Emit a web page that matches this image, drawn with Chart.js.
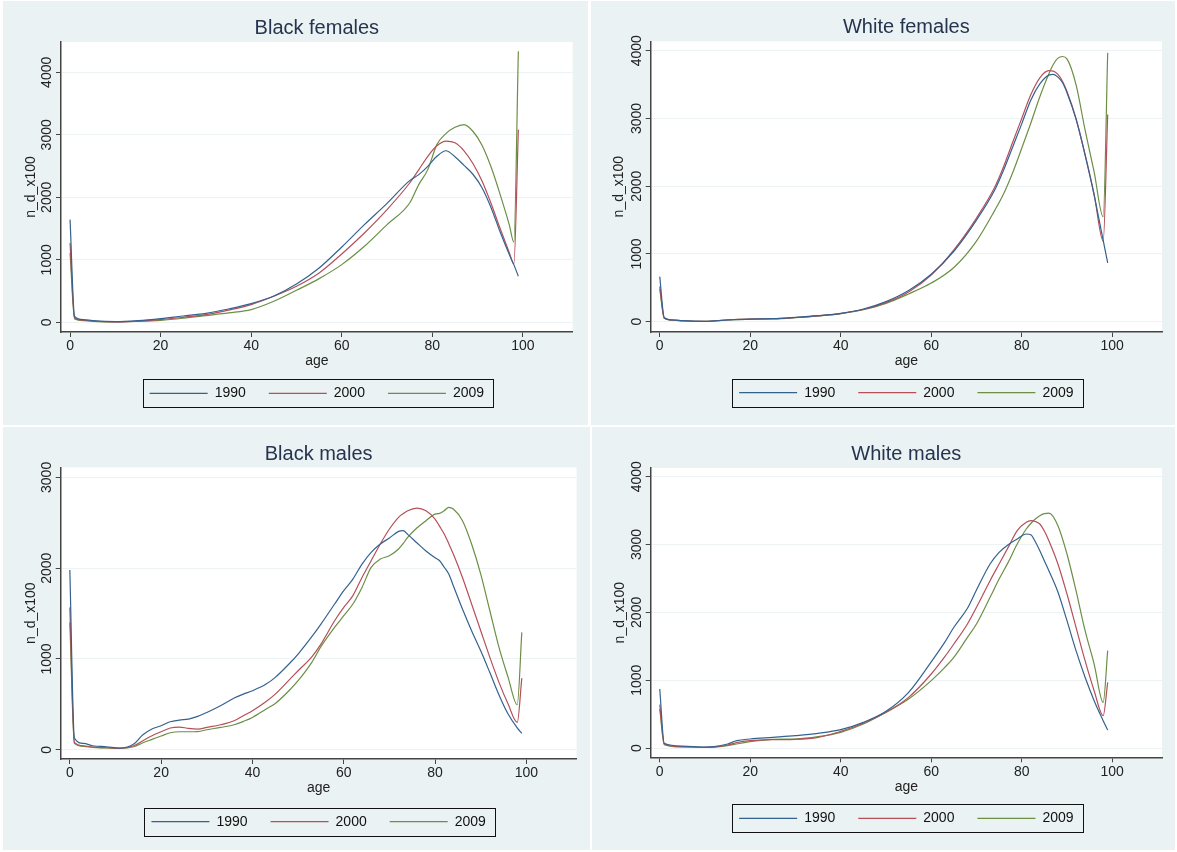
<!DOCTYPE html>
<html>
<head>
<meta charset="utf-8">
<script src="https://cdn.jsdelivr.net/npm/chart.js@4.4.0/dist/chart.umd.min.js"></script>
<style>
  html, body { margin: 0; padding: 0; background: #fff; }
  #wrap { position: relative; width: 1177px; height: 852px; overflow: hidden; }
  #wrap canvas { position: absolute; background: #eaf2f3; }
</style>
</head>
<body>
<div id="wrap">
  <canvas id="bf" width="585" height="424" style="left:3px;top:1px;width:585px;height:424px"></canvas>
  <canvas id="wf" width="584" height="424" style="left:591px;top:1px;width:584px;height:424px"></canvas>
  <canvas id="bm" width="587" height="423" style="left:3px;top:427px;width:587px;height:423px"></canvas>
  <canvas id="wm" width="583" height="423" style="left:592px;top:427px;width:583px;height:423px"></canvas>
</div>
<script>
const years = ['1990', '2000', '2009'];
const lineColors = ['#34628f', '#b5505a', '#6b8f45'];
const ageTicks = [0, 20, 40, 60, 80, 100];
const yTicks4k = [0, 1000, 2000, 3000, 4000];
const yTicks3k = [0, 1000, 2000, 3000];

// Black females
const bfAge  = [0, 1, 3, 5, 10, 15, 20, 25, 30, 35, 40, 45, 50, 55, 60, 65, 70, 75, 77, 79, 81, 83, 85, 87, 89, 91, 93, 95, 97, 98, 99];
const bf1990 = [1643, 96, 43, 27, 11, 27, 59, 101, 144, 213, 299, 421, 613, 869, 1205, 1563, 1904, 2267, 2363, 2496, 2656, 2745, 2650, 2510, 2365, 2150, 1830, 1440, 1085, 923, 736];
const bf2000 = [1269, 69, 35, 21, 5, 20, 43, 80, 123, 195, 283, 416, 576, 789, 1093, 1429, 1803, 2229, 2440, 2656, 2824, 2900, 2872, 2744, 2536, 2256, 1896, 1496, 1115, 933, 3083];
const bf2009 = [1109, 53, 28, 16, 5, 15, 32, 65, 107, 150, 203, 336, 512, 699, 923, 1216, 1563, 1909, 2203, 2443, 2843, 3020, 3120, 3163, 3053, 2830, 2480, 2040, 1560, 1285, 4336];

// White females
const wfAge  = [0, 1, 3, 5, 10, 15, 20, 25, 30, 35, 40, 45, 50, 55, 60, 65, 70, 74, 76, 78, 80, 82, 84, 86, 87, 88, 89, 90, 92, 94, 96, 98, 99];
const wf1990 = [665, 59, 25, 15, 5, 25, 39, 44, 64, 89, 123, 187, 296, 460, 700, 1040, 1500, 1940, 2240, 2580, 2920, 3270, 3510, 3640, 3650, 3610, 3530, 3380, 2990, 2460, 1870, 1200, 870];
const wf2000 = [520, 55, 23, 14, 5, 28, 40, 44, 62, 87, 120, 180, 282, 440, 690, 1060, 1530, 1980, 2290, 2650, 3000, 3350, 3600, 3705, 3700, 3650, 3550, 3400, 3000, 2470, 1880, 1190, 3060];
const wf2009 = [483, 50, 22, 13, 5, 25, 38, 42, 60, 85, 118, 178, 270, 410, 570, 800, 1190, 1640, 1890, 2200, 2560, 2930, 3320, 3660, 3800, 3890, 3915, 3880, 3500, 2830, 2210, 1550, 3970];

// Black males
const bmAge  = [0, 1, 3, 5, 8, 11, 14, 16, 18, 20, 22, 24, 26, 28, 30, 33, 36, 38, 40, 43, 45, 48, 50, 53, 55, 58, 60, 62, 64, 66, 68, 70, 72, 73, 74, 76, 78, 80, 81, 82, 83, 84, 86, 88, 90, 92, 94, 96, 98, 99];
const bm1990 = [1979, 129, 70, 44, 33, 18, 62, 165, 228, 264, 308, 327, 338, 367, 411, 485, 569, 613, 650, 723, 797, 944, 1054, 1245, 1384, 1605, 1752, 1880, 2045, 2174, 2266, 2332, 2405, 2413, 2372, 2280, 2190, 2115, 2082, 2010, 1935, 1807, 1550, 1311, 1090, 850, 604, 393, 240, 180];
const bm2000 = [1568, 81, 44, 29, 22, 15, 44, 99, 154, 198, 239, 250, 235, 228, 246, 275, 319, 375, 430, 532, 613, 767, 870, 1024, 1164, 1421, 1568, 1697, 1898, 2082, 2266, 2431, 2560, 2600, 2633, 2662, 2633, 2541, 2460, 2376, 2270, 2155, 1898, 1605, 1311, 1017, 742, 503, 301, 789];
const bm2009 = [1403, 70, 37, 26, 20, 15, 33, 77, 114, 151, 187, 198, 198, 200, 220, 246, 275, 312, 356, 448, 510, 650, 760, 962, 1135, 1348, 1476, 1605, 1788, 2009, 2100, 2137, 2211, 2270, 2339, 2442, 2523, 2596, 2603, 2633, 2670, 2651, 2523, 2266, 1935, 1531, 1127, 797, 496, 1293];

// White males
const wmAge  = [0, 1, 5, 10, 12, 15, 17, 20, 25, 30, 35, 40, 45, 50, 55, 60, 63, 65, 68, 70, 73, 75, 77, 79, 81, 82, 83, 84, 85, 86, 88, 90, 92, 94, 96, 98, 99];
const wm1990 = [870, 69, 29, 15, 20, 59, 108, 133, 157, 182, 216, 270, 378, 541, 821, 1270, 1560, 1780, 2060, 2330, 2713, 2885, 2998, 3081, 3155, 3145, 3040, 2909, 2760, 2614, 2300, 1877, 1435, 1042, 698, 403, 265];
const wm2000 = [639, 59, 20, 10, 15, 44, 79, 108, 123, 128, 157, 246, 364, 526, 747, 1091, 1346, 1533, 1828, 2074, 2467, 2713, 2958, 3204, 3327, 3351, 3340, 3302, 3200, 3057, 2713, 2270, 1779, 1287, 845, 477, 968];
const wm2009 = [575, 49, 15, 10, 12, 34, 59, 93, 128, 133, 167, 231, 354, 526, 722, 993, 1189, 1337, 1631, 1828, 2221, 2491, 2737, 3007, 3229, 3310, 3376, 3425, 3455, 3462, 3278, 2860, 2319, 1730, 1238, 673, 1435];

Chart.defaults.font.family = "'Liberation Sans', Arial, Helvetica, sans-serif";

// white plot region, like Stata's plotregion
const plotBg = {
    id: 'plotBg',
    beforeDraw(chart) {
        const a = chart.chartArea;
        const ctx = chart.ctx;
        ctx.save();
        ctx.fillStyle = '#ffffff';
        ctx.fillRect(a.left, a.top, a.right - a.left, a.bottom - a.top);
        ctx.restore();
    }
};

// black frame around the legend keys
const legendFrame = {
    id: 'legendFrame',
    afterDraw(chart) {
        const hb = chart.legend && chart.legend.legendHitBoxes;
        if (!hb || !hb.length) return;
        const last = hb[hb.length - 1];
        const mid = hb[0].top + hb[0].height / 2;
        const x0 = Math.round(hb[0].left - 7) + 0.5;
        const x1 = Math.round(last.left + last.width + 9) + 0.5;
        const y0 = Math.round(mid - 14) + 0.5;
        const y1 = Math.round(mid + 14) + 0.5;
        const ctx = chart.ctx;
        ctx.save();
        ctx.strokeStyle = '#111';
        ctx.lineWidth = 1;
        ctx.strokeRect(x0, y0, x1 - x0, y1 - y0);
        ctx.restore();
    }
};

function makePanel(id, title, ages, series, yTicks, yMin, yMax, frame) {
    const canvas = document.getElementById(id);
    const xh = frame.legendMid - 30 - frame.bottom;

    return new Chart(canvas, {
        type: 'line',
        data: {
            datasets: series.map((vals, i) => ({
                label: years[i],
                data: vals.map((v, j) => ({ x: ages[j], y: v })),
                borderColor: lineColors[i],
                backgroundColor: lineColors[i],
                borderWidth: 1.2,
                pointRadius: 0,
                cubicInterpolationMode: 'monotone',
                fill: false
            }))
        },
        options: {
            responsive: false,
            animation: false,
            events: [],
            layout: {
                padding: {
                    left: 0,
                    top: 0,
                    right: canvas.width - frame.right,
                    bottom: canvas.height - frame.legendMid - 17
                }
            },
            plugins: {
                title: {
                    display: true,
                    text: title,
                    fullSize: false,
                    color: '#26344f',
                    font: { size: 20, weight: 'normal' },
                    padding: { top: frame.titleMid - 12, bottom: frame.top - frame.titleMid - 12 }
                },
                legend: {
                    position: 'bottom',
                    fullSize: false,
                    labels: {
                        boxWidth: 58,
                        boxHeight: 0,
                        padding: 23,
                        color: '#111',
                        font: { size: 14 }
                    }
                },
                tooltip: { enabled: false }
            },
            scales: {
                x: {
                    type: 'linear',
                    min: -2,
                    max: 111,
                    afterBuildTicks: s => { s.ticks = ageTicks.map(v => ({ value: v })); },
                    afterFit: s => { s.height = xh; },
                    grid: { drawOnChartArea: false, tickLength: 5, tickColor: '#444' },
                    border: { color: '#444', width: 1.5 },
                    ticks: {
                        padding: 1,
                        color: '#222',
                        font: { size: 14 },
                        maxRotation: 0,
                        autoSkip: false,
                        callback: v => String(v)
                    },
                    title: {
                        display: true,
                        text: 'age',
                        color: '#222',
                        font: { size: 14 },
                        padding: { top: 0, bottom: xh - 8.4 - 29.4 }
                    }
                },
                y: {
                    type: 'linear',
                    min: yMin,
                    max: yMax,
                    afterBuildTicks: s => { s.ticks = yTicks.map(v => ({ value: v })); },
                    afterFit: s => { s.width = frame.left; },
                    grid: { color: '#edf3f4', lineWidth: 1, tickLength: 5, tickColor: '#444' },
                    border: { color: '#444', width: 1.5 },
                    ticks: {
                        minRotation: 90,
                        maxRotation: 90,
                        crossAlign: 'center',
                        padding: -7,
                        color: '#222',
                        font: { size: 14 },
                        autoSkip: false,
                        callback: v => String(v)
                    },
                    title: {
                        display: true,
                        text: 'n_d_x100',
                        color: '#222',
                        font: { size: 14 },
                        padding: { top: 19.6, bottom: 0 }
                    }
                }
            }
        },
        plugins: [plotBg, legendFrame]
    });
}

makePanel('bf', 'Black females', bfAge, [bf1990, bf2000, bf2009], yTicks4k, -155, 4485,
    { left: 58, right: 569.7, top: 41, bottom: 331, titleMid: 27.3, legendMid: 392.3 });
makePanel('wf', 'White females', wfAge, [wf1990, wf2000, wf2009], yTicks4k, -152, 4139,
    { left: 59.7, right: 571, top: 40.3, bottom: 331, titleMid: 26.7, legendMid: 391.7 });
makePanel('bm', 'Black males', bmAge, [bm1990, bm2000, bm2009], yTicks3k, -102, 3111,
    { left: 57.7, right: 573.6, top: 40.3, bottom: 332, titleMid: 27, legendMid: 394.7 });
makePanel('wm', 'White males', wmAge, [wm1990, wm2000, wm2009], yTicks4k, -137, 4128,
    { left: 58.7, right: 570, top: 41, bottom: 330.3, titleMid: 27.3, legendMid: 391.3 });
</script>
</body>
</html>
